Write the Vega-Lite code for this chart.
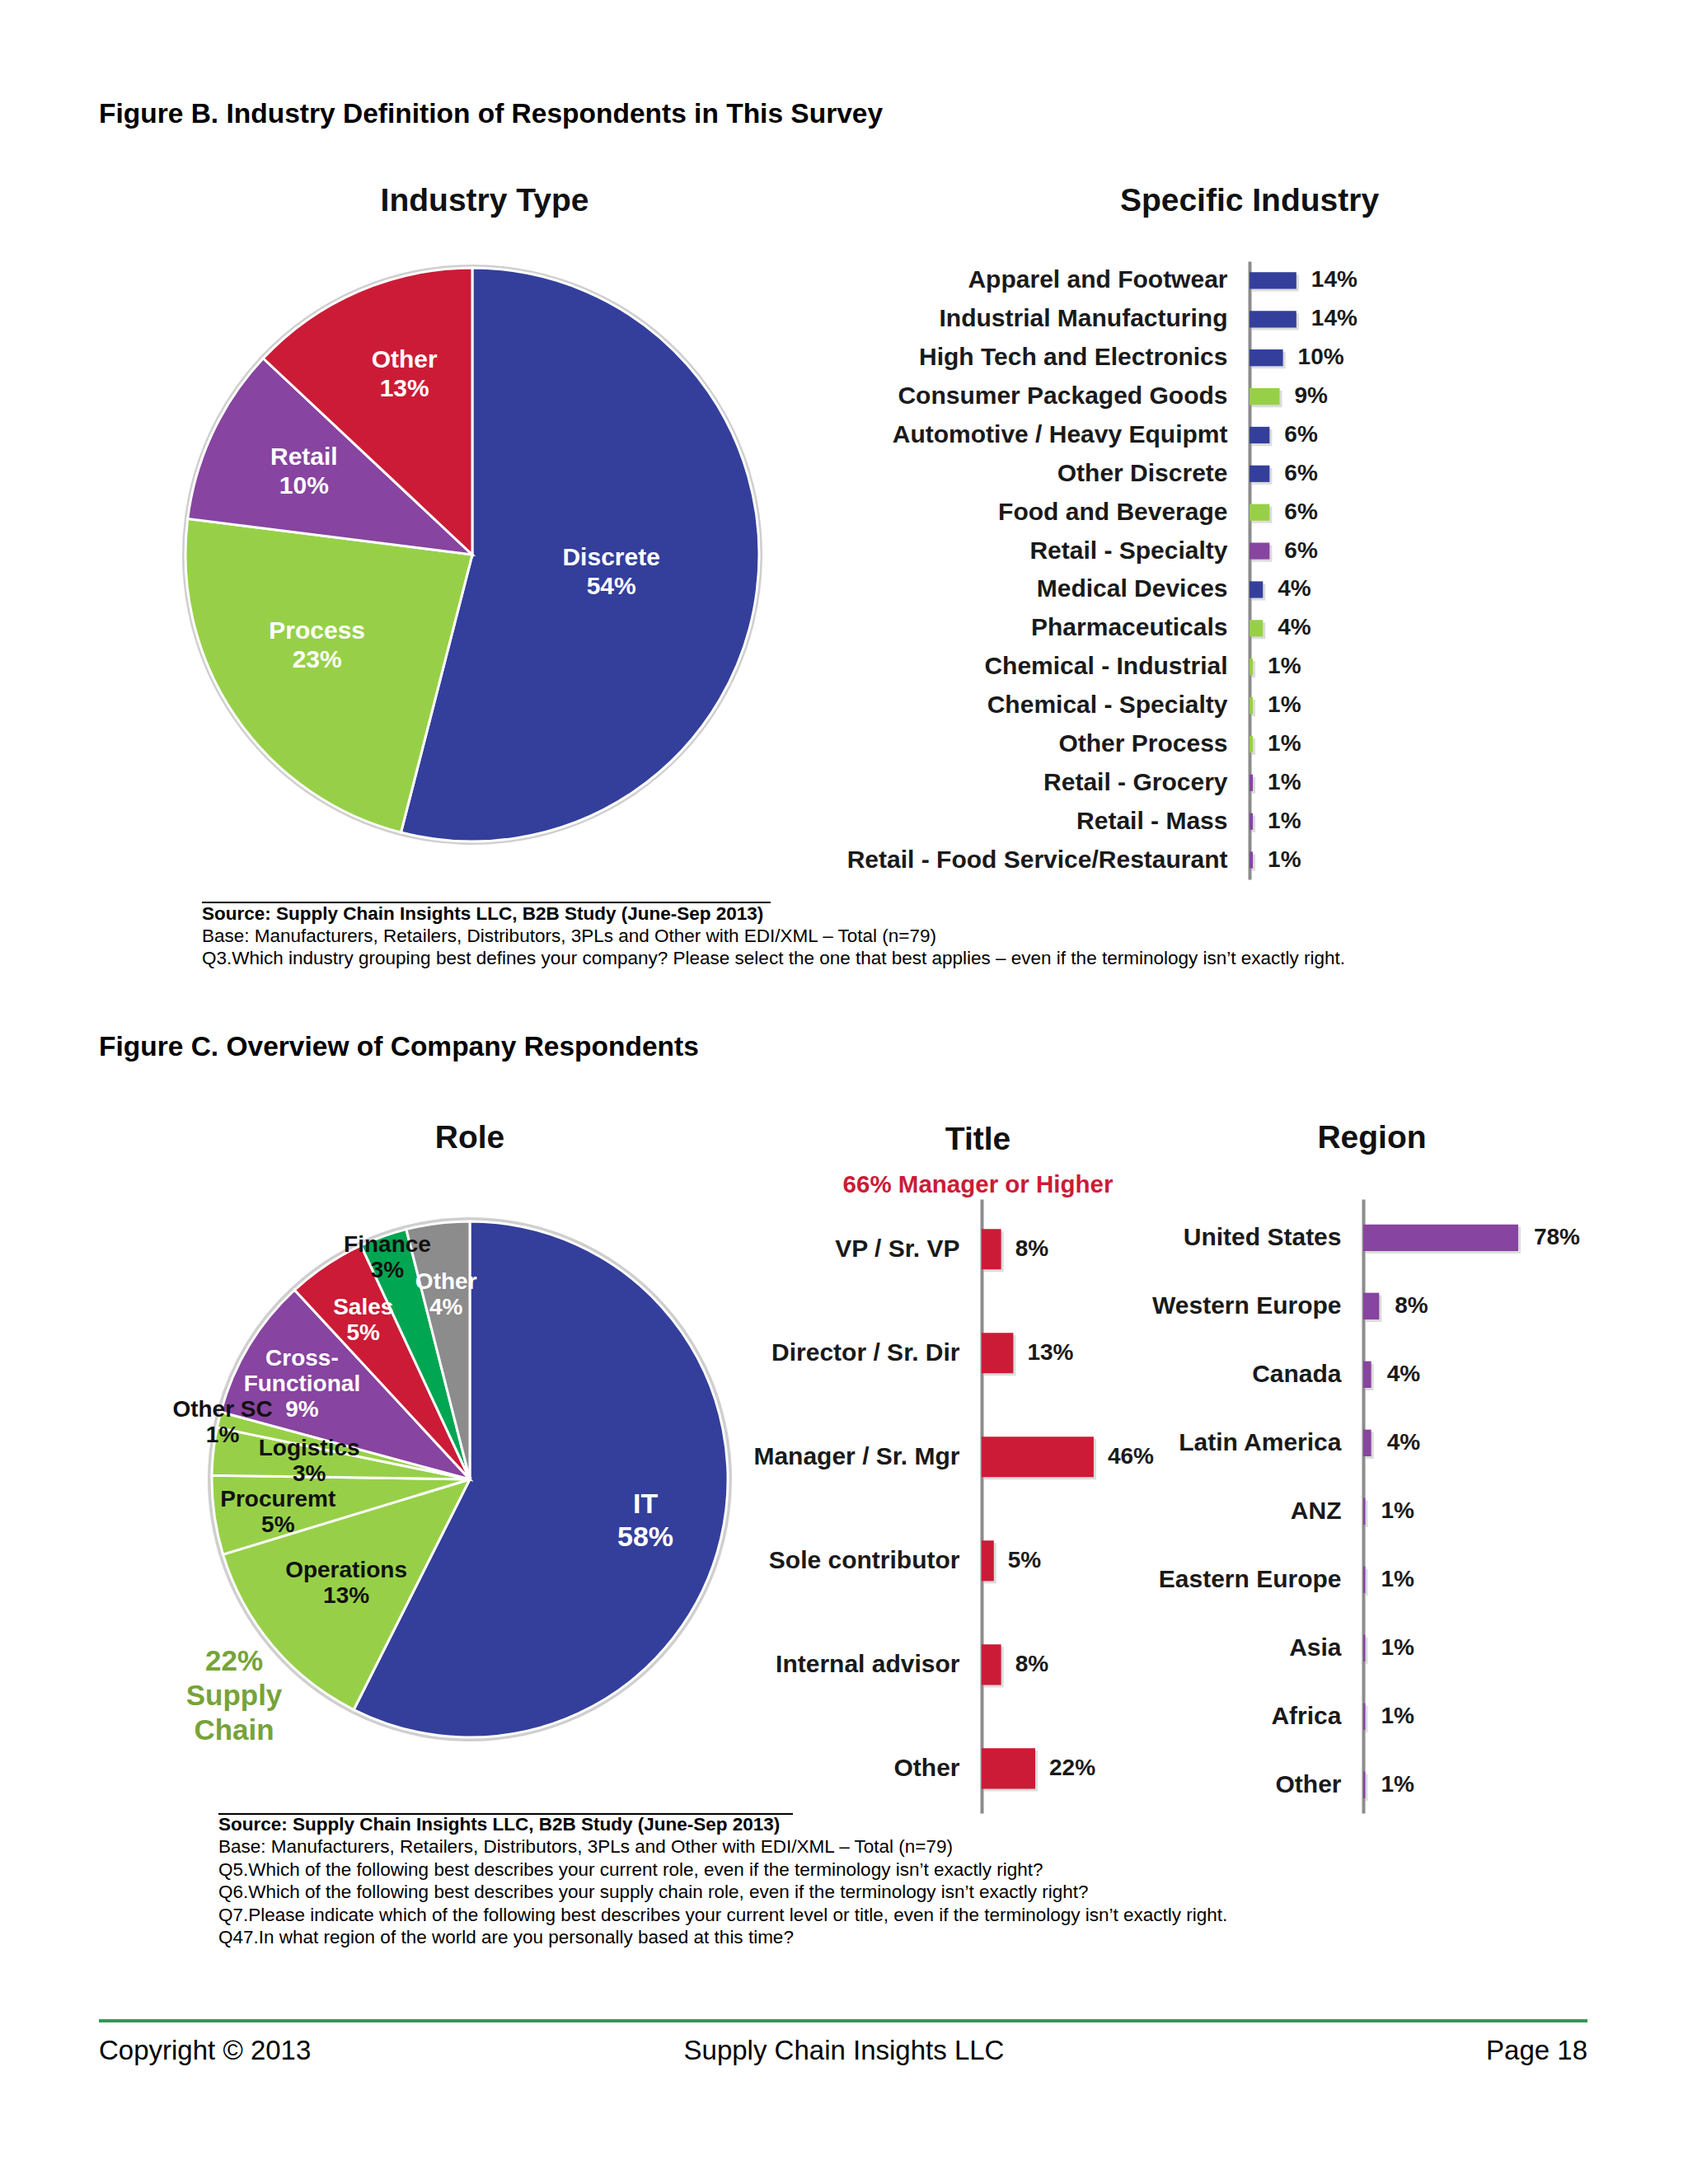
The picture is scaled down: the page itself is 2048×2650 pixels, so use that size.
{
  "$schema": "https://vega.github.io/schema/vega-lite/v6.json",
  "background": "#ffffff",
  "padding": 0,
  "spacing": 0,
  "bounds": "flush",
  "columns": 4,
  "resolve": {"scale": {"theta": "independent", "color": "independent", "x": "independent", "y": "independent"}},
  "config": {
    "font": "Liberation Sans",
    "view": {"stroke": null},
    "title": {"fontWeight": "bold", "color": "#111111", "frame": "group", "anchor": "middle", "fontSize": 39},
    "axis": {"grid": false, "ticks": false, "labelFont": "Liberation Sans", "labelFontWeight": "bold", "labelColor": "#1a1a1a", "labelLimit": 800, "domainColor": "#8c8c8c", "domainWidth": 4, "labelFontSize": 30, "labelPadding": 27}
  },
  "datasets": {
    "industryType": [
      {"name": "Discrete", "pct": 54},
      {"name": "Process", "pct": 23},
      {"name": "Retail", "pct": 10},
      {"name": "Other", "pct": 13}
    ],
    "specific": [
      {"industry": "Apparel and Footwear", "pct": 14, "type": "Discrete"},
      {"industry": "Industrial Manufacturing", "pct": 14, "type": "Discrete"},
      {"industry": "High Tech and Electronics", "pct": 10, "type": "Discrete"},
      {"industry": "Consumer Packaged Goods", "pct": 9, "type": "Process"},
      {"industry": "Automotive / Heavy Equipmt", "pct": 6, "type": "Discrete"},
      {"industry": "Other Discrete", "pct": 6, "type": "Discrete"},
      {"industry": "Food and Beverage", "pct": 6, "type": "Process"},
      {"industry": "Retail - Specialty", "pct": 6, "type": "Retail"},
      {"industry": "Medical Devices", "pct": 4, "type": "Discrete"},
      {"industry": "Pharmaceuticals", "pct": 4, "type": "Process"},
      {"industry": "Chemical - Industrial", "pct": 1, "type": "Process"},
      {"industry": "Chemical - Specialty", "pct": 1, "type": "Process"},
      {"industry": "Other Process", "pct": 1, "type": "Process"},
      {"industry": "Retail - Grocery", "pct": 1, "type": "Retail"},
      {"industry": "Retail - Mass", "pct": 1, "type": "Retail"},
      {"industry": "Retail - Food Service/Restaurant", "pct": 1, "type": "Retail"}
    ],
    "role": [
      {"name": "IT", "pct": 58, "grp": "IT"},
      {"name": "Operations", "pct": 13, "grp": "Supply Chain"},
      {"name": "Procuremt", "pct": 5, "grp": "Supply Chain"},
      {"name": "Logistics", "pct": 3, "grp": "Supply Chain"},
      {"name": "Other SC", "pct": 1, "grp": "Supply Chain"},
      {"name": "Cross-Functional", "pct": 9, "grp": "Cross-Functional"},
      {"name": "Sales", "pct": 5, "grp": "Sales"},
      {"name": "Finance", "pct": 3, "grp": "Finance"},
      {"name": "Other", "pct": 4, "grp": "Other"}
    ],
    "title": [
      {"title": "VP / Sr. VP", "pct": 8},
      {"title": "Director / Sr. Dir", "pct": 13},
      {"title": "Manager / Sr. Mgr", "pct": 46},
      {"title": "Sole contributor", "pct": 5},
      {"title": "Internal advisor", "pct": 8},
      {"title": "Other", "pct": 22}
    ],
    "region": [
      {"region": "United States", "pct": 78},
      {"region": "Western Europe", "pct": 8},
      {"region": "Canada", "pct": 4},
      {"region": "Latin America", "pct": 4},
      {"region": "ANZ", "pct": 1},
      {"region": "Eastern Europe", "pct": 1},
      {"region": "Asia", "pct": 1},
      {"region": "Africa", "pct": 1},
      {"region": "Other", "pct": 1}
    ],
    "none": []
  },
  "concat": [
    {
      "width": 1191,
      "height": 317,
      "data": {"values": [{"t": "Figure B. Industry Definition of Respondents in This Survey"}]},
      "mark": {"type": "text", "align": "left", "baseline": "middle", "x": 120, "y": 139, "fontSize": 33.5, "fontWeight": "bold", "color": "#000000"},
      "encoding": {"text": {"field": "t"}}
    },
    {"width": 1, "height": 1, "data": {"name": "none"}, "mark": "point"},
    {"width": 1, "height": 1, "data": {"name": "none"}, "mark": "point"},
    {"width": 1, "height": 1, "data": {"name": "none"}, "mark": "point"},
    {
      "width": 1146,
      "height": 712,
      "title": {"text": "Industry Type", "offset": 53, "dx": 15},
      "data": {"name": "industryType"},
      "transform": [
        {"window": [{"op": "row_number", "as": "k"}]},
        {"calculate": "datum.name + '\\n' + datum.pct + '%'", "as": "lbl"}
      ],
      "layer": [
        {
          "mark": {"type": "arc", "outerRadius": 352, "color": "#cfcfcf"},
          "encoding": {
            "theta": {"field": "pct", "type": "quantitative", "stack": true},
            "order": {"field": "k", "type": "quantitative"}
          }
        },
        {
          "mark": {"type": "arc", "outerRadius": 348, "stroke": "#ffffff", "strokeWidth": 3},
          "encoding": {
            "theta": {"field": "pct", "type": "quantitative", "stack": true},
            "order": {"field": "k", "type": "quantitative"},
            "color": {"field": "name", "type": "nominal", "legend": null,
              "scale": {"domain": ["Discrete", "Process", "Retail", "Other"], "range": ["#333F9B", "#97D048", "#8744A0", "#CC1B36"]}}
          }
        },
        {
          "mark": {"type": "text", "radius": 170, "dy": -17.5, "fontSize": 30, "fontWeight": "bold", "color": "#ffffff", "lineBreak": "\n", "lineHeight": 35, "align": "center", "baseline": "middle"},
          "encoding": {
            "theta": {"field": "pct", "type": "quantitative", "stack": true},
            "order": {"field": "k", "type": "quantitative"},
            "text": {"condition": {"test": "datum.name == 'Discrete'", "field": "lbl"}, "value": ""}
          }
        },
        {
          "mark": {"type": "text", "radius": 212, "dx": -13, "dy": -26, "fontSize": 30, "fontWeight": "bold", "color": "#ffffff", "lineBreak": "\n", "lineHeight": 35, "align": "center", "baseline": "middle"},
          "encoding": {
            "theta": {"field": "pct", "type": "quantitative", "stack": true},
            "order": {"field": "k", "type": "quantitative"},
            "text": {"condition": {"test": "datum.name == 'Process'", "field": "lbl"}, "value": ""}
          }
        },
        {
          "mark": {"type": "text", "radius": 240, "dx": 13, "dy": -16, "fontSize": 30, "fontWeight": "bold", "color": "#ffffff", "lineBreak": "\n", "lineHeight": 35, "align": "center", "baseline": "middle"},
          "encoding": {
            "theta": {"field": "pct", "type": "quantitative", "stack": true},
            "order": {"field": "k", "type": "quantitative"},
            "text": {"condition": {"test": "datum.name == 'Retail' || datum.name == 'Other'", "field": "lbl"}, "value": ""}
          }
        }
      ]
    },
    {"width": 1, "height": 1, "data": {"name": "none"}, "mark": "point"},
    {
      "width": 138,
      "height": 750,
      "title": {"text": "Specific Industry", "offset": 53, "dx": -69},
      "data": {"name": "specific"},
      "transform": [{"calculate": "datum.pct + '%'", "as": "lbl"}],
      "encoding": {
        "y": {"field": "industry", "type": "nominal", "sort": null,
          "scale": {"paddingInner": 0.57, "paddingOuter": 0.285},
          "axis": {"title": null}},
        "x": {"field": "pct", "type": "quantitative", "scale": {"domain": [0, 34]}, "axis": null}
      },
      "layer": [
        {"mark": {"type": "bar", "color": "#9a9a9a", "opacity": 0.35, "xOffset": 3, "x2Offset": 3, "yOffset": 3}},
        {"mark": {"type": "bar"},
         "encoding": {"color": {"field": "type", "type": "nominal", "legend": null,
           "scale": {"domain": ["Discrete", "Process", "Retail"], "range": ["#333F9B", "#97D048", "#8744A0"]}}}},
        {"mark": {"type": "text", "align": "left", "baseline": "middle", "dx": 18, "fontSize": 28, "fontWeight": "bold", "color": "#1a1a1a"},
         "encoding": {"text": {"field": "lbl"}}}
      ]
    },
    {"width": 1, "height": 1, "data": {"name": "none"}, "mark": "point"},
    {
      "width": 1191,
      "height": 388,
      "layer": [
        {
          "data": {"values": [{"a": 1}]},
          "mark": {"type": "rule", "strokeWidth": 2, "color": "#000000"},
          "encoding": {"x": {"value": 245}, "x2": {"value": 935}, "y": {"value": 28}}
        },
        {
          "data": {"values": [{"t": "Source:  Supply Chain Insights LLC, B2B Study (June-Sep 2013)"}]},
          "mark": {"type": "text", "x": 245, "y": 42, "align": "left", "baseline": "middle", "fontSize": 22.5, "fontWeight": "bold", "color": "#000000"},
          "encoding": {"text": {"field": "t"}}
        },
        {
          "data": {"values": [{"t": "Base:  Manufacturers, Retailers, Distributors, 3PLs and Other with EDI/XML – Total (n=79)\nQ3.Which industry grouping best defines your company?  Please select the one that best applies – even if the terminology isn’t exactly right."}]},
          "mark": {"type": "text", "x": 245, "y": 69, "align": "left", "baseline": "middle", "fontSize": 22.5, "lineBreak": "\n", "lineHeight": 27, "color": "#000000"},
          "encoding": {"text": {"field": "t"}}
        },
        {
          "data": {"values": [{"t": "Figure C. Overview of Company Respondents"}]},
          "mark": {"type": "text", "x": 120, "y": 204, "align": "left", "baseline": "middle", "fontSize": 33.5, "fontWeight": "bold", "color": "#000000"},
          "encoding": {"text": {"field": "t"}}
        }
      ]
    },
    {"width": 1, "height": 1, "data": {"name": "none"}, "mark": "point"},
    {"width": 1, "height": 1, "data": {"name": "none"}, "mark": "point"},
    {"width": 1, "height": 1, "data": {"name": "none"}, "mark": "point"},
    {
      "width": 1140,
      "height": 680,
      "title": {"text": "Role", "offset": 54},
      "data": {"name": "role"},
      "transform": [
        {"window": [{"op": "row_number", "as": "k"}]},
        {"calculate": "(datum.name == 'Cross-Functional' ? 'Cross-\\nFunctional' : datum.name) + '\\n' + datum.pct + '%'", "as": "lbl"}
      ],
      "layer": [
        {
          "mark": {"type": "arc", "outerRadius": 318, "color": "#cfcfcf"},
          "encoding": {
            "theta": {"field": "pct", "type": "quantitative", "stack": true},
            "order": {"field": "k", "type": "quantitative"}
          }
        },
        {
          "mark": {"type": "arc", "outerRadius": 313, "stroke": "#ffffff", "strokeWidth": 3},
          "encoding": {
            "theta": {"field": "pct", "type": "quantitative", "stack": true},
            "order": {"field": "k", "type": "quantitative"},
            "color": {"field": "name", "type": "nominal", "legend": null,
              "scale": {"domain": ["IT", "Operations", "Procuremt", "Logistics", "Other SC", "Cross-Functional", "Sales", "Finance", "Other"],
                        "range": ["#333F9B", "#97D048", "#97D048", "#97D048", "#97D048", "#8744A0", "#CC1B36", "#00A651", "#8C8C8C"]}}
          }
        },
        {
          "mark": {"type": "text", "radius": 219, "dy": -20, "fontSize": 34, "fontWeight": "bold", "color": "#ffffff", "lineBreak": "\n", "lineHeight": 40, "align": "center", "baseline": "middle"},
          "encoding": {
            "theta": {"field": "pct", "type": "quantitative", "stack": true},
            "order": {"field": "k", "type": "quantitative"},
            "text": {"condition": {"test": "datum.name == 'IT'", "field": "lbl"}, "value": ""}
          }
        },
        {
          "mark": {"type": "text", "radius": 232, "dy": -15.5, "fontSize": 28, "fontWeight": "bold", "color": "#ffffff", "lineBreak": "\n", "lineHeight": 31, "align": "center", "baseline": "middle"},
          "encoding": {
            "theta": {"field": "pct", "type": "quantitative", "stack": true},
            "order": {"field": "k", "type": "quantitative"},
            "text": {"condition": {"test": "datum.name == 'Sales'", "field": "lbl"}, "value": ""}
          }
        },
        {
          "mark": {"type": "text", "radius": 232, "dy": -8.5, "fontSize": 28, "fontWeight": "bold", "color": "#ffffff", "lineBreak": "\n", "lineHeight": 31, "align": "center", "baseline": "middle"},
          "encoding": {
            "theta": {"field": "pct", "type": "quantitative", "stack": true},
            "order": {"field": "k", "type": "quantitative"},
            "text": {"condition": {"test": "datum.name == 'Other'", "field": "lbl"}, "value": ""}
          }
        },
        {
          "mark": {"type": "text", "radius": 238, "dy": -23, "fontSize": 28, "fontWeight": "bold", "color": "#ffffff", "lineBreak": "\n", "lineHeight": 31, "align": "center", "baseline": "middle"},
          "encoding": {
            "theta": {"field": "pct", "type": "quantitative", "stack": true},
            "order": {"field": "k", "type": "quantitative"},
            "text": {"condition": {"test": "datum.name == 'Cross-Functional'", "field": "lbl"}, "value": ""}
          }
        },
        {
          "mark": {"type": "text", "radius": 196, "dy": -15.5, "fontSize": 28, "fontWeight": "bold", "color": "#111111", "lineBreak": "\n", "lineHeight": 31, "align": "center", "baseline": "middle"},
          "encoding": {
            "theta": {"field": "pct", "type": "quantitative", "stack": true},
            "order": {"field": "k", "type": "quantitative"},
            "text": {"condition": {"test": "datum.name == 'Operations' || datum.name == 'Logistics'", "field": "lbl"}, "value": ""}
          }
        },
        {
          "mark": {"type": "text", "radius": 235, "dy": -7.5, "fontSize": 28, "fontWeight": "bold", "color": "#111111", "lineBreak": "\n", "lineHeight": 31, "align": "center", "baseline": "middle"},
          "encoding": {
            "theta": {"field": "pct", "type": "quantitative", "stack": true},
            "order": {"field": "k", "type": "quantitative"},
            "text": {"condition": {"test": "datum.name == 'Procuremt'", "field": "lbl"}, "value": ""}
          }
        },
        {
          "mark": {"type": "text", "radius": 298, "dx": -10, "dy": -15.5, "fontSize": 28, "fontWeight": "bold", "color": "#111111", "lineBreak": "\n", "lineHeight": 31, "align": "center", "baseline": "middle"},
          "encoding": {
            "theta": {"field": "pct", "type": "quantitative", "stack": true},
            "order": {"field": "k", "type": "quantitative"},
            "text": {"condition": {"test": "datum.name == 'Other SC'", "field": "lbl"}, "value": ""}
          }
        },
        {
          "mark": {"type": "text", "radius": 298, "dy": -3.5, "fontSize": 28, "fontWeight": "bold", "color": "#111111", "lineBreak": "\n", "lineHeight": 31, "align": "center", "baseline": "middle"},
          "encoding": {
            "theta": {"field": "pct", "type": "quantitative", "stack": true},
            "order": {"field": "k", "type": "quantitative"},
            "text": {"condition": {"test": "datum.name == 'Finance'", "field": "lbl"}, "value": ""}
          }
        },
        {
          "transform": [
            {"filter": "datum.grp == 'Supply Chain'"},
            {"aggregate": [{"op": "sum", "field": "pct", "as": "tot"}]},
            {"calculate": "datum.tot + '%\\nSupply\\nChain'", "as": "lbl"}
          ],
          "mark": {"type": "text", "x": 284, "y": 561, "fontSize": 35, "fontWeight": "bold", "color": "#77A339", "lineBreak": "\n", "lineHeight": 42, "align": "center", "baseline": "middle"},
          "encoding": {"text": {"field": "lbl"}}
        }
      ]
    },
    {
      "width": 325,
      "height": 745,
      "title": {"text": "Title", "subtitle": "66%  Manager or Higher", "subtitleColor": "#CC1B36", "subtitleFontSize": 29.5, "subtitleFontWeight": "bold", "subtitlePadding": 21, "offset": 3, "dx": -167},
      "data": {"name": "title"},
      "transform": [{"calculate": "datum.pct + '%'", "as": "lbl"}],
      "encoding": {
        "y": {"field": "title", "type": "nominal", "sort": null,
          "scale": {"paddingInner": 0.61, "paddingOuter": 0.261, "align": 0.55},
          "axis": {"title": null}},
        "x": {"field": "pct", "type": "quantitative", "scale": {"domain": [0, 110]}, "axis": null}
      },
      "layer": [
        {"mark": {"type": "bar", "color": "#9a9a9a", "opacity": 0.35, "xOffset": 3, "x2Offset": 3, "yOffset": 3}},
        {"mark": {"type": "bar", "color": "#CC1B36"}},
        {"mark": {"type": "text", "align": "left", "baseline": "middle", "dx": 17, "fontSize": 28, "fontWeight": "bold", "color": "#1a1a1a"},
         "encoding": {"text": {"field": "lbl"}}}
      ]
    },
    {"width": 1, "height": 1, "data": {"name": "none"}, "mark": "point"},
    {
      "width": 241,
      "height": 745,
      "title": {"text": "Region", "offset": 54, "dx": -110},
      "data": {"name": "region"},
      "transform": [{"calculate": "datum.pct + '%'", "as": "lbl"}],
      "encoding": {
        "y": {"field": "region", "type": "nominal", "sort": null,
          "scale": {"paddingInner": 0.61, "paddingOuter": 0.293, "align": 0.63},
          "axis": {"title": null}},
        "x": {"field": "pct", "type": "quantitative", "scale": {"domain": [0, 100]}, "axis": null}
      },
      "layer": [
        {"mark": {"type": "bar", "color": "#9a9a9a", "opacity": 0.35, "xOffset": 3, "x2Offset": 3, "yOffset": 3}},
        {"mark": {"type": "bar", "color": "#8744A0"}},
        {"mark": {"type": "text", "align": "left", "baseline": "middle", "dx": 19, "fontSize": 28, "fontWeight": "bold", "color": "#1a1a1a"},
         "encoding": {"text": {"field": "lbl"}}}
      ]
    },
    {
      "width": 1191,
      "height": 450,
      "layer": [
        {
          "data": {"values": [{"a": 1}]},
          "mark": {"type": "rule", "strokeWidth": 2, "color": "#000000"},
          "encoding": {"x": {"value": 265}, "x2": {"value": 962}, "y": {"value": 1}}
        },
        {
          "data": {"values": [{"t": "Source:  Supply Chain Insights LLC, B2B Study (June-Sep 2013)"}]},
          "mark": {"type": "text", "x": 265, "y": 14, "align": "left", "baseline": "middle", "fontSize": 22.5, "fontWeight": "bold", "color": "#000000"},
          "encoding": {"text": {"field": "t"}}
        },
        {
          "data": {"values": [{"t": "Base:  Manufacturers,  Retailers, Distributors, 3PLs and Other with EDI/XML – Total (n=79)\nQ5.Which of the following best describes your current role, even if the terminology isn’t exactly right?\nQ6.Which of the following best describes your supply chain role, even if the terminology isn’t exactly right?\nQ7.Please indicate which of the following best describes your current level or title, even if the terminology isn’t exactly right.\nQ47.In what region of the world are you personally based at this time?"}]},
          "mark": {"type": "text", "x": 265, "y": 41, "align": "left", "baseline": "middle", "fontSize": 22.5, "lineBreak": "\n", "lineHeight": 27.5, "color": "#000000"},
          "encoding": {"text": {"field": "t"}}
        },
        {
          "data": {"values": [{"a": 1}]},
          "mark": {"type": "rule", "strokeWidth": 4, "color": "#2E9B57"},
          "encoding": {"x": {"value": 120}, "x2": {"value": 1926}, "y": {"value": 252}}
        },
        {
          "data": {"values": [{"t": "Copyright © 2013"}]},
          "mark": {"type": "text", "x": 120, "y": 289, "align": "left", "baseline": "middle", "fontSize": 33, "color": "#000000"},
          "encoding": {"text": {"field": "t"}}
        },
        {
          "data": {"values": [{"t": "Supply Chain Insights LLC"}]},
          "mark": {"type": "text", "x": 1024, "y": 289, "align": "center", "baseline": "middle", "fontSize": 33, "color": "#000000"},
          "encoding": {"text": {"field": "t"}}
        },
        {
          "data": {"values": [{"t": "Page 18"}]},
          "mark": {"type": "text", "x": 1926, "y": 289, "align": "right", "baseline": "middle", "fontSize": 33, "color": "#000000"},
          "encoding": {"text": {"field": "t"}}
        }
      ]
    },
    {"width": 1, "height": 1, "data": {"name": "none"}, "mark": "point"},
    {"width": 1, "height": 1, "data": {"name": "none"}, "mark": "point"},
    {"width": 1, "height": 1, "data": {"name": "none"}, "mark": "point"}
  ]
}
